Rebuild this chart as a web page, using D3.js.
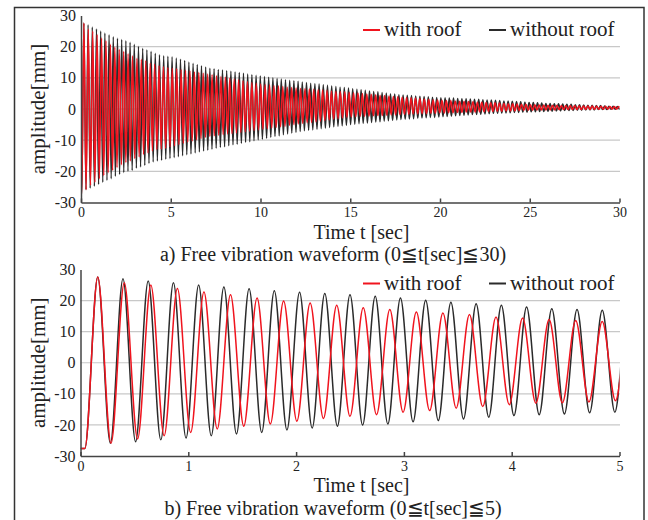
<!DOCTYPE html>
<html>
<head>
<meta charset="utf-8">
<script src="https://cdn.jsdelivr.net/npm/d3@7"></script>
<style>
  body { margin: 0; background: #fff; }
  svg { display: block; font-family: "Liberation Serif", "Times New Roman", "DejaVu Serif", serif; }
</style>
</head>
<body>
<div id="chart"></div>
<script>
// Free vibration waveforms, with roof (red) vs without roof (black)
const width = 648, height = 520;

// flat start, then alternating peaks / troughs once per cycle
const startLevel = -27.6, startFlat = 0.04;
const firstPeak = 0.16;
const blackPeriod = 0.234, redPeriod = 0.2463; // sec, measured between peaks

const blackPeaks = [
  27.6, 27.0, 26.3, 25.7, 25.0, 24.4, 23.8, 23.2, 22.7, 22.3, 21.9, 21.4, 20.8,
  20.1, 19.5, 19.0, 18.5, 17.9, 17.4, 17.1, 16.9,
  16.8, 16.4, 16.0, 15.6, 15.1, 14.7, 14.3, 13.9, 13.5, 13.1,
  12.9, 12.7, 12.5, 12.3, 12.1, 11.9, 11.7, 11.5, 11.2, 11.0, 10.8, 10.6,
  10.4, 10.2, 10.0, 9.8, 9.6, 9.4, 9.2, 9.1, 8.9,
  8.7, 8.5, 8.3, 8.1, 8.0, 7.8, 7.6, 7.4, 7.2, 7.0, 6.9, 6.7,
  6.5, 6.3, 6.2, 6.0, 5.8, 5.6, 5.5, 5.3, 5.1, 4.9, 4.8, 4.6,
  4.5, 4.4, 4.3, 4.2, 4.1, 4.0, 3.9, 3.8, 3.7,
  3.6, 3.6, 3.5, 3.5, 3.4, 3.3, 3.3, 3.2, 3.1, 3.1, 3.0, 2.9, 2.9,
  2.8, 2.7, 2.6, 2.6, 2.5, 2.4, 2.3, 2.2, 2.1, 2.1, 2.0, 1.9,
  1.8, 1.8, 1.7, 1.7, 1.6, 1.5, 1.5, 1.4, 1.4, 1.3, 1.2, 1.2, 1.1, 1.1, 1.0, 0.9, 0.9, 0.8, 0.8
];
const blackTroughs = [
  -25.9, -25.4, -24.8, -24.2, -23.5, -22.9, -22.4, -21.6, -21.0, -20.4, -20.0, -19.7, -19.0,
  -18.6, -18.1, -17.5, -17.0, -16.7, -16.5, -16.1, -15.9,
  -15.6, -15.3, -15.0, -14.7, -14.4, -14.1, -13.8, -13.5, -13.2,
  -12.9, -12.6, -12.3, -12.1, -11.8, -11.5, -11.3, -11.0, -10.7, -10.5, -10.2, -9.9,
  -9.7, -9.4, -9.1, -8.8, -8.6, -8.3, -8.0, -7.7, -7.5, -7.2,
  -7.0, -6.8, -6.7, -6.5, -6.3, -6.1, -5.9, -5.7, -5.5, -5.4, -5.2, -5.0,
  -4.9, -4.7, -4.6, -4.5, -4.3, -4.2, -4.1, -3.9, -3.8, -3.7, -3.5, -3.4,
  -3.3, -3.2, -3.1, -3.0, -2.9, -2.8, -2.7, -2.7, -2.6,
  -2.5, -2.4, -2.3, -2.2, -2.1, -2.0, -1.9, -1.8, -1.8, -1.7, -1.6, -1.5,
  -1.4, -1.4, -1.3, -1.3, -1.2, -1.1, -1.1, -1.0, -1.0, -0.9, -0.9, -0.8,
  -0.8, -0.7, -0.7, -0.6, -0.6, -0.5, -0.5, -0.5, -0.4, -0.4, -0.3, -0.3, -0.3, -0.2, -0.2, -0.2, -0.1, -0.1, 0.0
];
const redPeaks = [
  27.6, 25.7, 25.0, 23.9, 22.8, 21.9, 20.8, 19.9, 19.2, 18.5, 17.7, 17.1, 16.3,
  16.0, 15.5, 14.7, 14.4, 13.9, 13.6, 13.3,
  13.1, 12.9, 12.6, 12.4, 12.2, 11.9, 11.7, 11.5, 11.2,
  11.0, 10.7, 10.4, 10.2, 9.9, 9.6, 9.4, 9.1, 8.8, 8.5, 8.3, 8.0,
  7.8, 7.7, 7.5, 7.4, 7.2, 7.0, 6.9, 6.7,
  6.6, 6.5, 6.4, 6.3, 6.2, 6.1, 6.0, 5.8, 5.7, 5.6, 5.5, 5.4,
  5.2, 5.1, 5.0, 4.8, 4.7, 4.6, 4.4, 4.3, 4.2, 4.0, 3.9, 3.8,
  3.7, 3.6, 3.5, 3.4, 3.2, 3.1, 3.0, 2.9,
  2.8, 2.7, 2.7, 2.6, 2.5, 2.5, 2.4, 2.3, 2.2, 2.2, 2.1,
  2.0, 2.0, 1.9, 1.8, 1.7, 1.7, 1.6, 1.5, 1.5, 1.4, 1.4, 1.3,
  1.3, 1.2, 1.2, 1.2, 1.1, 1.1, 1.1, 1.1, 1.0, 1.0, 1.0, 1.0, 0.9, 0.9, 0.9, 0.8, 0.8, 0.8
];
const redTroughs = [
  -25.9, -24.5, -23.5, -22.4, -21.3, -20.4, -19.7, -18.8, -17.9, -17.2, -16.7, -15.9, -15.4,
  -14.6, -14.1, -13.5, -13.0, -12.9, -12.6, -12.2,
  -11.8, -11.4, -11.0, -10.6, -10.3, -9.9, -9.5, -9.1, -8.8,
  -8.6, -8.4, -8.2, -8.0, -7.9, -7.7, -7.5, -7.3, -7.1, -6.9, -6.7,
  -6.5, -6.3, -6.1, -5.9, -5.7, -5.5, -5.2, -5.0, -4.8, -4.6, -4.4,
  -4.3, -4.1, -3.9, -3.7, -3.5, -3.3, -3.1, -2.9, -2.7,
  -2.6, -2.5, -2.4, -2.4, -2.3, -2.2, -2.1, -2.1, -2.0, -1.9, -1.9, -1.8,
  -1.7, -1.7, -1.6, -1.6, -1.5, -1.5, -1.4, -1.4, -1.3,
  -1.3, -1.2, -1.2, -1.1, -1.1, -1.0, -1.0, -1.0, -0.9, -0.9, -0.8,
  -0.8, -0.7, -0.7, -0.6, -0.6, -0.6, -0.5, -0.5, -0.4, -0.4, -0.3, -0.3,
  -0.3, -0.3, -0.3, -0.2, -0.2, -0.2, -0.2, -0.2, -0.2, -0.1, -0.1, -0.1, -0.1, -0.1, 0.0, 0.0, 0.0, 0.0
];

const yTicks = [-30, -20, -10, 0, 10, 20, 30];
const gridVals = [-20, -10, 0, 10, 20];
const xTicksTop = [0, 5, 10, 15, 20, 25, 30];
const xTicksBottom = [0, 1, 2, 3, 4, 5];
const seriesNames = ["with roof", "without roof"];
const captions = ["a) Free vibration waveform (0\u2266t[sec]\u226630)", "b) Free vibration waveform (0\u2266t[sec]\u22665)"];

const RED = "#f0141e", BLACK = "#2b2b2b";

function wave(peaks, troughs, period) {
  const pts = [[0, startLevel], [startFlat, startLevel]];
  peaks.forEach((p, i) => {
    pts.push([firstPeak + i * period, p]);
    if (i < troughs.length) pts.push([firstPeak + (i + 0.5) * period, troughs[i]]);
  });
  return pts;
}
const blackData = wave(blackPeaks, blackTroughs, blackPeriod);
const redData = wave(redPeaks, redTroughs, redPeriod);

const svg = d3.select("#chart").append("svg").attr("width", width).attr("height", height);

// outer frame
svg.append("rect").attr("x", 14.5).attr("y", 7.5).attr("width", 629.5).attr("height", 560)
  .attr("fill", "none").attr("stroke", "#333").attr("stroke-width", 1.5);

function panel(id, xDomain, xRange, yRange, xTicks, legendY, caption, titleY, captionY) {
  const x = d3.scaleLinear().domain(xDomain).range(xRange);
  const y = d3.scaleLinear().domain([-30, 30]).range(yRange);
  const g = svg.append("g");

  g.append("clipPath").attr("id", id).append("rect")
    .attr("x", xRange[0]).attr("y", yRange[1] - 5)
    .attr("width", xRange[1] - xRange[0]).attr("height", yRange[0] - yRange[1] + 10);

  g.append("g").selectAll("line").data(gridVals).join("line")
    .attr("x1", xRange[0]).attr("x2", xRange[1] + 0.5)
    .attr("y1", d => y(d)).attr("y2", d => y(d))
    .attr("stroke", "#c8c8c8").attr("stroke-width", 1.2);

  const line = d3.line().x(d => x(d[0])).y(d => y(d[1])).curve(d3.curveMonotoneX);
  const lines = g.append("g").attr("clip-path", `url(#${id})`);
  lines.append("path").datum(blackData).attr("d", line)
    .attr("fill", "none").attr("stroke", BLACK).attr("stroke-width", 1.5);
  lines.append("path").datum(redData).attr("d", line)
    .attr("fill", "none").attr("stroke", RED).attr("stroke-width", 1.5);

  const xAxis = d3.axisBottom(x).tickValues(xTicks).tickFormat(d => String(d))
    .tickSizeInner(-4).tickSizeOuter(0).tickPadding(5);
  const gx = g.append("g").attr("transform", `translate(0,${yRange[0]})`).call(xAxis)
    .attr("font-family", null).attr("font-size", null);
  gx.selectAll("text").attr("font-size", 14).attr("fill", "#222");
  gx.selectAll("line, path").attr("stroke", "#444").attr("stroke-width", 1.5);

  const yAxis = d3.axisLeft(y).tickValues(yTicks).tickFormat(d => String(d))
    .tickSize(0).tickPadding(5);
  const gy = g.append("g").attr("transform", `translate(${xRange[0]},0)`).call(yAxis)
    .attr("font-family", null).attr("font-size", null);
  gy.selectAll("text").attr("font-size", 16).attr("fill", "#222");
  gy.select(".domain").attr("stroke", "#444").attr("stroke-width", 1.5);

  g.append("text").attr("transform", `translate(45,${(yRange[0] + yRange[1]) / 2}) rotate(-90)`)
    .attr("text-anchor", "middle").attr("font-size", 21).attr("fill", "#222").text("amplitude[mm]");

  g.append("text").attr("x", 361.5).attr("y", titleY)
    .attr("text-anchor", "middle").attr("font-size", 20).attr("fill", "#222").text("Time t [sec]");
  g.append("text").attr("x", 333).attr("y", captionY)
    .attr("text-anchor", "middle").attr("font-size", 20).attr("fill", "#222").text(caption);

  // legend
  const leg = [[363, RED, seriesNames[0]], [489, BLACK, seriesNames[1]]];
  leg.forEach(([lx, c, name]) => {
    g.append("line").attr("x1", lx).attr("x2", lx + 17).attr("y1", legendY - 6).attr("y2", legendY - 6)
      .attr("stroke", c).attr("stroke-width", 2);
    g.append("text").attr("x", lx + 21).attr("y", legendY).attr("font-size", 21)
      .attr("fill", "#222").text(name);
  });
}

panel("clipTop", [0, 30], [81, 619.5], [202.5, 15.5], xTicksTop, 36, captions[0], 238.6, 260.9);
panel("clipBottom", [0, 5], [80.5, 619.5], [456, 269.5], xTicksBottom, 289.5, captions[1], 492.2, 514.5);
</script>
</body>
</html>
